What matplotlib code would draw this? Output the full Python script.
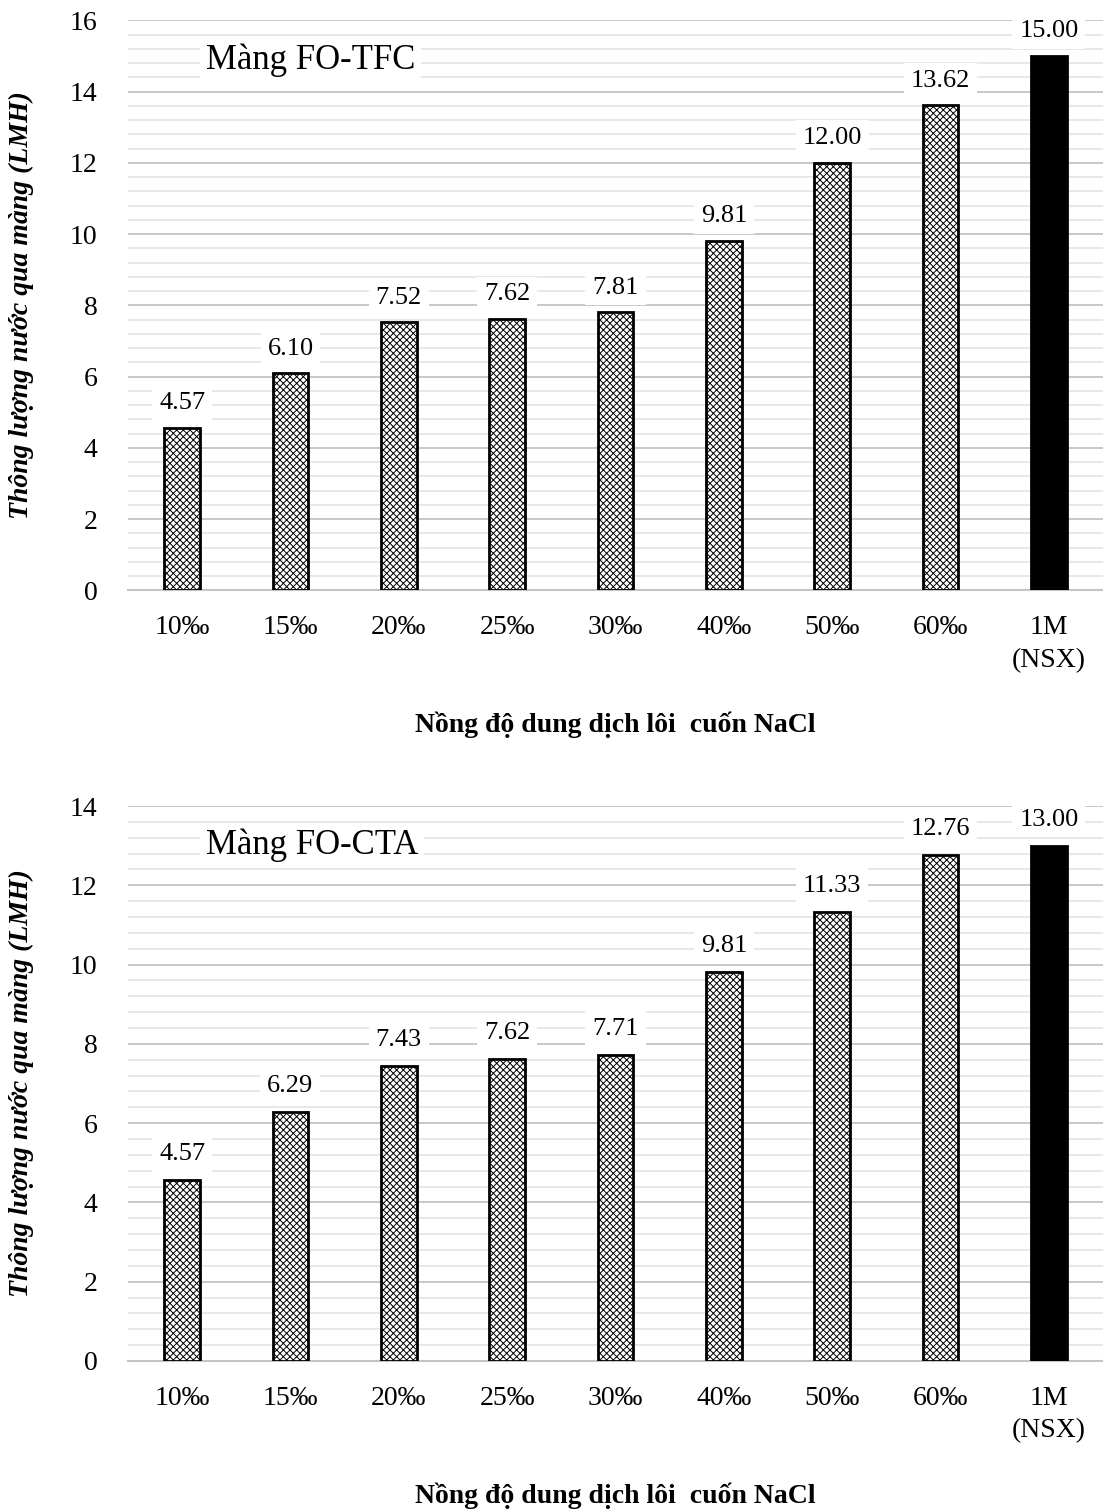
import numpy as np
import matplotlib.pyplot as plt
from matplotlib.ticker import MultipleLocator

plt.rcParams['font.family'] = ['Liberation Serif', 'DejaVu Serif']
plt.rcParams['hatch.linewidth'] = 0.7

categories = ["10‰", "15‰", "20‰", "25‰", "30‰", "40‰", "50‰", "60‰", "1M\n(NSX)"]
tfc_values = [4.57, 6.10, 7.52, 7.62, 7.81, 9.81, 12.00, 13.62, 15.00]
cta_values = [4.57, 6.29, 7.43, 7.62, 7.71, 9.81, 11.33, 12.76, 13.00]
panels = [
    ("Màng FO-TFC", tfc_values, 16),
    ("Màng FO-CTA", cta_values, 14),
]
xlabel = "Nồng độ dung dịch lôi  cuốn NaCl"
ylabel = "Thông lượng nước qua màng (LMH)"

fig = plt.figure(figsize=(11.03, 15.10), dpi=100)
rects = [[0.116, 0.609, 0.884, 0.3775], [0.116, 0.0987, 0.884, 0.3675]]

for (name, vals, ymax), rect in zip(panels, rects):
    ax = fig.add_axes(rect)
    x = np.arange(len(categories))
    for i, v in enumerate(vals):
        last = i == len(vals) - 1
        ax.bar(x[i], v, width=0.33,
               color="black" if last else "white",
               edgecolor="black", linewidth=2,
               hatch=None if last else "xxxxx", zorder=3)
        ax.text(x[i], v + 0.38, f"{v:.2f}", ha="center", va="bottom",
                fontsize=19, zorder=4,
                bbox=dict(facecolor="white", edgecolor="none", pad=5))
    ax.set_xlim(-0.5, len(categories) - 0.5)
    ax.set_ylim(0, ymax)
    ax.yaxis.set_major_locator(MultipleLocator(2))
    ax.yaxis.set_minor_locator(MultipleLocator(0.4))
    ax.grid(which="major", axis="y", color="#c4c4c4", linewidth=1.3, zorder=0)
    ax.grid(which="minor", axis="y", color="#e2e2e2", linewidth=1.1, zorder=0)
    ax.set_xticks(x)
    ax.set_xticklabels(categories, fontsize=20, linespacing=1.4)
    ax.tick_params(axis="both", which="both", length=0, labelsize=20)
    ax.tick_params(axis="x", pad=18)
    ax.tick_params(axis="y", pad=22)
    for s in ["top", "right", "left"]:
        ax.spines[s].set_visible(False)
    ax.spines["bottom"].set_color("#c4c4c4")
    ax.spines["bottom"].set_linewidth(1.5)
    ax.text(0.08, 0.93, name, transform=ax.transAxes, fontsize=25,
            ha="left", va="center", zorder=4,
            bbox=dict(facecolor="white", edgecolor="none", pad=4))
    ax.set_xlabel(xlabel, fontsize=20, fontweight="bold", labelpad=28)
    ax.set_ylabel(ylabel, fontsize=20, fontweight="bold", style="italic", labelpad=26)

fig.savefig("out.png", dpi=100)
